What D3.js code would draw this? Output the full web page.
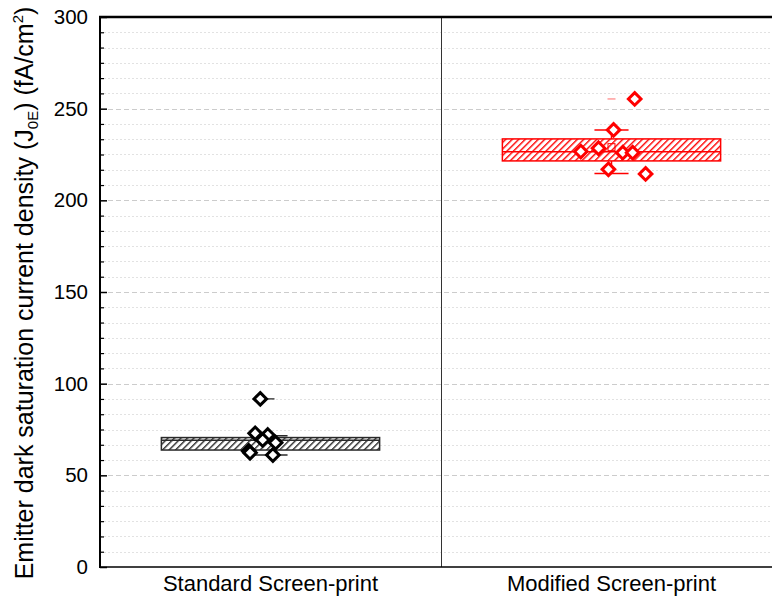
<!DOCTYPE html>
<html>
<head>
<meta charset="utf-8">
<script src="https://cdn.jsdelivr.net/npm/d3@7/dist/d3.min.js"></script>
<style>
  html, body { margin: 0; padding: 0; background: #fff; }
  svg { display: block; font-family: "Liberation Sans", Arial, sans-serif; }
</style>
</head>
<body>
<svg id="chart" width="772" height="599"></svg>
<script>
// Groups and their colours
const categories = ["Standard Screen-print", "Modified Screen-print"];
const colors = ["#000000", "#ff0000"];
const boxColors = ["#2a2a2a", "#ff0000"];

// Individual J0E measurements (fA/cm^2) per group
const standardValues = [91.7, 72.9, 72.0, 69.3, 67.8, 63.3, 62.3, 61.1];
const modifiedValues = [255.3, 238.4, 228.4, 226.6, 226.0, 226.0, 216.9, 214.4];
// Horizontal scatter of the points, as a fraction of the group width
const standardJitter = [-0.03, -0.045, -0.008, -0.023, 0.015, -0.064, -0.06, 0.007];
const modifiedJitter = [0.068, 0.006, -0.038, -0.09, 0.033, 0.062, -0.009, 0.1];

// Box statistics per group: 25th, median, 75th percentile, whiskers, mean, max
const q1 = [63.8, 221.5];
const median = [69.2, 226.5];
const q3 = [70.6, 233.5];
const whiskerLow = [61.1, 214.6];
const whiskerHigh = [71.6, 238.4];
const means = [70.1, 229.0];
const maxima = [91.7, 255.3];

// Axis ticks
const yMajorTicks = [0, 50, 100, 150, 200, 250, 300];
const yMinorStep = 50 / 6;

const svg = d3.select("#chart");
const margin = { left: 100, top: 17, right: -10, bottom: 32 };
const W = 772, H = 599;

const y = d3.scaleLinear().domain([0, 300]).range([H - margin.bottom, margin.top]);
const x = d3.scaleBand().domain(categories).range([margin.left, W - margin.right]).padding(0);
const bw = x.bandwidth();
const plotRight = W;

const minorTicks = d3.range(0, 300 + 1e-6, yMinorStep).filter(v => Math.abs(v / 50 - Math.round(v / 50)) > 1e-6);

// Hatch patterns for the boxes
const defs = svg.append("defs");
boxColors.forEach((c, i) => {
  const p = defs.append("pattern")
    .attr("id", "hatch" + i)
    .attr("patternUnits", "userSpaceOnUse")
    .attr("width", 4.6).attr("height", 4.6)
    .attr("patternTransform", "rotate(45)");
  p.append("rect").attr("width", 4.6).attr("height", 4.6).attr("fill", "#fff");
  p.append("line").attr("x1", 0.7).attr("y1", 0).attr("x2", 0.7).attr("y2", 4.6)
    .attr("stroke", c).attr("stroke-width", 1.4);
});

// Grid lines
const grid = svg.append("g");
grid.selectAll("line.minor").data(minorTicks).join("line")
  .attr("x1", margin.left).attr("x2", plotRight)
  .attr("y1", d => Math.round(y(d)) + 0.5).attr("y2", d => Math.round(y(d)) + 0.5)
  .attr("stroke", "#e2e2e2").attr("stroke-width", 1).attr("stroke-dasharray", "2,2");
grid.selectAll("line.major").data(yMajorTicks.filter(v => v > 0 && v < 300)).join("line")
  .attr("x1", margin.left).attr("x2", plotRight)
  .attr("y1", d => Math.round(y(d)) + 0.5).attr("y2", d => Math.round(y(d)) + 0.5)
  .attr("stroke", "#cccccc").attr("stroke-width", 1).attr("stroke-dasharray", "5,3");

// Divider between the two groups
svg.append("line")
  .attr("x1", x(categories[1]) + 0.5).attr("x2", x(categories[1]) + 0.5)
  .attr("y1", y(300)).attr("y2", y(0))
  .attr("stroke", "#333").attr("stroke-width", 1);

// Box plots
const boxW = bw * 0.64;
const capW = bw * 0.1;
categories.forEach((cat, i) => {
  const cx = x(cat) + bw / 2;
  const col = boxColors[i];
  const g = svg.append("g");
  // whiskers
  g.append("line").attr("x1", cx).attr("x2", cx).attr("y1", y(q3[i])).attr("y2", y(whiskerHigh[i]))
    .attr("stroke", col).attr("stroke-width", 1.5);
  g.append("line").attr("x1", cx).attr("x2", cx).attr("y1", y(q1[i])).attr("y2", y(whiskerLow[i]))
    .attr("stroke", col).attr("stroke-width", 1.5);
  [whiskerHigh[i], whiskerLow[i]].forEach(v => {
    g.append("line").attr("x1", cx - capW / 2).attr("x2", cx + capW / 2)
      .attr("y1", y(v)).attr("y2", y(v)).attr("stroke", col).attr("stroke-width", 1.5);
  });
  // box
  g.append("rect")
    .attr("x", cx - boxW / 2).attr("y", y(q3[i]))
    .attr("width", boxW).attr("height", y(q1[i]) - y(q3[i]))
    .attr("fill", "url(#hatch" + i + ")").attr("stroke", col).attr("stroke-width", 1.5);
  g.append("line").attr("x1", cx - boxW / 2).attr("x2", cx + boxW / 2)
    .attr("y1", y(median[i])).attr("y2", y(median[i])).attr("stroke", col).attr("stroke-width", 1.5);
  // mean
  g.append("rect").attr("x", cx - 3.5).attr("y", y(means[i]) - 3.5)
    .attr("width", 7).attr("height", 7).attr("fill", "none").attr("stroke", col).attr("stroke-width", 1);
  // maximum marker
  g.append("line").attr("x1", cx - 4).attr("x2", cx + 4)
    .attr("y1", y(maxima[i])).attr("y2", y(maxima[i]))
    .attr("stroke", col).attr("stroke-width", 1.3).attr("stroke-opacity", i === 1 ? 0.45 : 1);
});

// Data points (open diamonds)
const groups = [
  { vals: standardValues, jit: standardJitter },
  { vals: modifiedValues, jit: modifiedJitter }
];
const diamond = "M0,-6.3L6.3,0L0,6.3L-6.3,0Z";
groups.forEach((gr, i) => {
  const cx = x(categories[i]) + bw / 2;
  svg.append("g").selectAll("path").data(gr.vals).join("path")
    .attr("d", diamond)
    .attr("transform", (d, j) => `translate(${cx + gr.jit[j] * bw},${y(d)})`)
    .attr("fill", "#fff").attr("stroke", colors[i]).attr("stroke-width", 3)
    .attr("stroke-linejoin", "miter");
});

// Y axis: major and minor ticks pointing inward
const yAxis = d3.axisLeft(y).tickValues(yMajorTicks).tickSize(-7).tickPadding(12).tickFormat(d3.format("d"));
const ya = svg.append("g").attr("transform", `translate(${margin.left},0)`).call(yAxis);
ya.select(".domain").remove();
ya.selectAll(".tick line").attr("stroke", "#000").attr("stroke-width", 1.5);
ya.selectAll(".tick text").attr("font-size", 20.5).attr("fill", "#000")
  .attr("font-family", "'Liberation Sans', Arial, sans-serif");
const yMinor = d3.axisLeft(y).tickValues(minorTicks).tickSize(-4).tickFormat("");
const ym = svg.append("g").attr("transform", `translate(${margin.left},0)`).call(yMinor);
ym.select(".domain").remove();
ym.selectAll(".tick line").attr("stroke", "#000").attr("stroke-width", 1.2);

// Frame
svg.append("line").attr("x1", margin.left).attr("x2", margin.left)
  .attr("y1", y(300) - 1).attr("y2", y(0) + 1).attr("stroke", "#000").attr("stroke-width", 2);
svg.append("line").attr("x1", margin.left - 1).attr("x2", plotRight)
  .attr("y1", y(300)).attr("y2", y(300)).attr("stroke", "#000").attr("stroke-width", 2.5);
svg.append("line").attr("x1", margin.left - 1).attr("x2", plotRight)
  .attr("y1", y(0)).attr("y2", y(0)).attr("stroke", "#000").attr("stroke-width", 1.5);

// Category labels
svg.append("g").selectAll("text").data(categories).join("text")
  .attr("x", d => x(d) + bw / 2).attr("y", H - 8)
  .attr("text-anchor", "middle").attr("font-size", 22).attr("fill", "#000")
  .text(d => d);

// Y axis title with subscript and superscript
const title = svg.append("text")
  .attr("transform", `translate(33,${(y(0) + y(300)) / 2 + 1}) rotate(-90)`)
  .attr("text-anchor", "middle").attr("font-size", 25).attr("fill", "#000");
title.append("tspan").text("Emitter dark saturation current density (J");
title.append("tspan").attr("font-size", 15).attr("dy", 5).text("0E");
title.append("tspan").attr("dy", -5).text(") (fA/cm");
title.append("tspan").attr("font-size", 15).attr("dy", -10).text("2");
title.append("tspan").attr("dy", 10).text(")");
</script>
</body>
</html>
